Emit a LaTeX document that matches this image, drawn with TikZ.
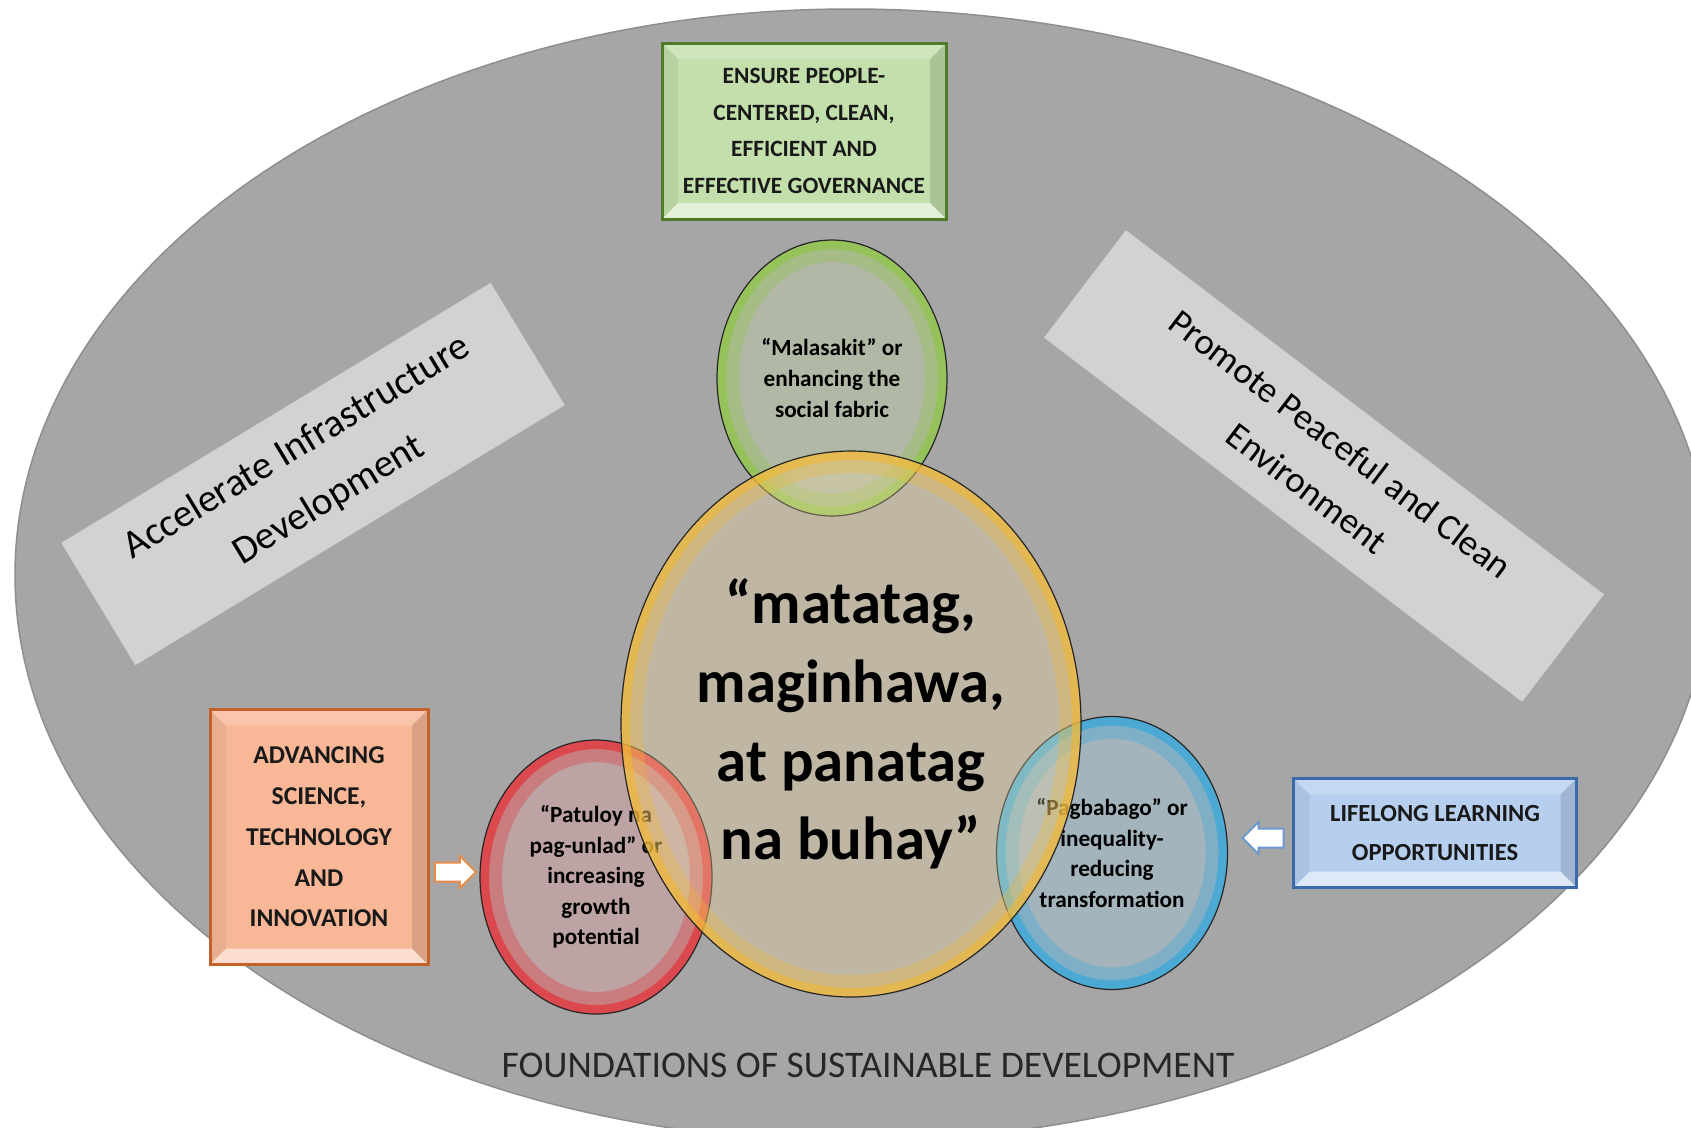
\documentclass[tikz,border=0pt]{standalone}
\usepackage{fontspec}
\setmainfont{Carlito}
\usetikzlibrary{shapes.geometric,shapes.arrows,positioning,calc}

\definecolor{platecol}{HTML}{A6A6A6}
\definecolor{plateedge}{HTML}{8E8E8E}
\definecolor{bannercol}{HTML}{D2D2D2}
\definecolor{govfill}{HTML}{C3E0AC}
\definecolor{govedge}{HTML}{4F7A28}
\definecolor{scifill}{HTML}{F8B898}
\definecolor{sciedge}{HTML}{C5602A}
\definecolor{sciarrow}{HTML}{EC8A48}
\definecolor{lrnfill}{HTML}{B6CFEE}
\definecolor{lrnedge}{HTML}{3A6AAA}
\definecolor{lrnarrow}{HTML}{6C98D0}
\definecolor{ringgreen}{HTML}{8CC63F}
\definecolor{ringyellow}{HTML}{F2B731}
\definecolor{ringred}{HTML}{E8262C}
\definecolor{ringblue}{HTML}{2AA6DE}

\tikzset{
  banner/.style={fill=bannercol, align=center, inner sep=0pt},
  bevelbox/.style 2 args={draw=#2, fill=#1, line width=0.3mm, align=center, inner sep=0pt,
    text=black!90, font=\bfseries\fontsize{7}{11.3}\selectfont,
    path picture={
      \path (path picture bounding box.south west) coordinate (bvA)
            (path picture bounding box.south east) coordinate (bvB)
            (path picture bounding box.north east) coordinate (bvC)
            (path picture bounding box.north west) coordinate (bvD);
      \fill[white, opacity=.55] (bvA) -- (bvB) -- ([shift={(-1.6mm,1.6mm)}]bvB) -- ([shift={(1.6mm,1.6mm)}]bvA) -- cycle;
      \fill[white, opacity=.2] (bvD) -- (bvC) -- ([shift={(-1.6mm,-1.6mm)}]bvC) -- ([shift={(1.6mm,-1.6mm)}]bvD) -- cycle;
      \fill[black, opacity=.06] (bvA) -- (bvD) -- ([shift={(1.6mm,-1.6mm)}]bvD) -- ([shift={(1.6mm,1.6mm)}]bvA) -- cycle;
      \fill[black, opacity=.12] (bvB) -- (bvC) -- ([shift={(-1.6mm,-1.6mm)}]bvC) -- ([shift={(-1.6mm,1.6mm)}]bvB) -- cycle;
    }},
  bubble/.style={ellipse, draw=black!85, line width=0.12mm, fill=#1!45!white, fill opacity=.3,
    text opacity=1, align=center, inner sep=0pt, font=\bfseries\fontsize{6.6}{8.7}\selectfont,
    path picture={
      \draw[#1, draw opacity=.3, line width=4.4mm]
        let \p1=(path picture bounding box.north east), \p2=(path picture bounding box.center)
        in (\p2) ellipse [x radius=\x1-\x2, y radius=\y1-\y2];
      \draw[#1, draw opacity=.6, line width=1.8mm]
        let \p1=(path picture bounding box.north east), \p2=(path picture bounding box.center)
        in (\p2) ellipse [x radius=\x1-\x2, y radius=\y1-\y2];
    }},
  blockarrow/.style={single arrow, draw=#1, fill=white, line width=0.2mm, inner xsep=0pt,
    inner ysep=0.85mm, minimum height=4.1mm, single arrow head extend=0.65mm}
}

\begin{document}
\begin{tikzpicture}[x=0.1mm, y=-0.1mm]
  \useasboundingbox (0,0) rectangle (1691,1127);
  \clip (0,0) rectangle (1691,1127);
  \fill[white] (0,0) rectangle (1691,1127);
  \draw[plateedge, fill=platecol, line width=0.15mm] (850,9)
    arc[start angle=90, end angle=-90, x radius=86mm, y radius=56.6mm]
    arc[start angle=-90, end angle=-270, x radius=83.5mm, y radius=56.6mm] -- cycle;

  \node[banner, minimum width=50.2mm, minimum height=14.3mm, rotate=31.2,
    font=\fontsize{11.2}{17.5}\selectfont] (infra) at (313,474) {Accelerate Infrastructure\\Development};
  \node[banner, minimum width=60.1mm, minimum height=13.5mm, rotate=-37.3,
    font=\fontsize{10.4}{15.8}\selectfont] (peace) at (1324,466) {Promote Peaceful and Clean\\Environment};

  \node[bevelbox={govfill}{govedge}, minimum width=28.4mm, minimum height=17.6mm,
    font=\bfseries\fontsize{6.65}{10.4}\selectfont] (gov) at (804,131)
    {ENSURE PEOPLE-\\CENTERED, CLEAN,\\EFFICIENT AND\\EFFECTIVE GOVERNANCE};
  \node[bevelbox={scifill}{sciedge}, minimum width=21.8mm, minimum height=25.5mm,
    font=\bfseries\fontsize{7.3}{11.6}\selectfont] (sci) at (319,837)
    {ADVANCING\\SCIENCE,\\TECHNOLOGY\\AND\\INNOVATION};
  \node[bevelbox={lrnfill}{lrnedge}, minimum width=28.3mm, minimum height=10.9mm] (lifelong) at (1435,833)
    {LIFELONG LEARNING\\OPPORTUNITIES};

  \node[bubble=ringgreen, minimum width=23mm, minimum height=27.6mm] (malasakit) at (832,378)
    {“Malasakit” or\\enhancing the\\social fabric};
  \node[bubble=ringred, minimum width=23.2mm, minimum height=27.4mm] (patuloy) at (596,877)
    {“Patuloy na\\pag-unlad” or\\increasing\\growth\\potential};
  \node[bubble=ringblue, minimum width=23.1mm, minimum height=27.3mm] (pagbabago) at (1112,853)
    {“Pagbabago” or\\inequality-\\reducing\\transformation};
  \node[bubble=ringyellow, minimum width=46mm, minimum height=54.6mm,
    font=\bfseries\fontsize{17.3}{22.4}\selectfont] (core) at (851,724)
    {“matatag,\\maginhawa,\\at panatag\\na buhay”};

  \node[blockarrow=sciarrow, left=0.2mm of patuloy, yshift=0.5mm] (arrSci) {};
  \node[blockarrow=lrnarrow, shape border rotate=180, right=1.3mm of pagbabago, yshift=1.5mm] (arrLife) {};

  \node[font=\fontsize{10.7}{12}\selectfont, text=black!85] (footer) at (868,1065)
    {FOUNDATIONS OF SUSTAINABLE DEVELOPMENT};
\end{tikzpicture}
\end{document}
